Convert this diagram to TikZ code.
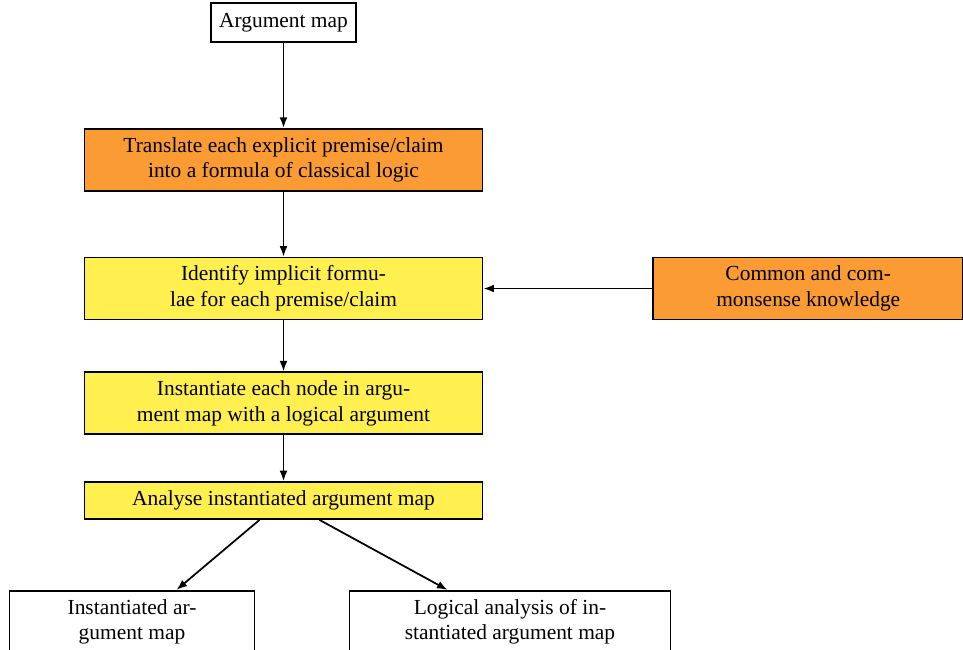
\documentclass[tikz,border=0pt]{standalone}
\usepackage{fontspec}
\setmainfont{Liberation Serif}
\usetikzlibrary{positioning,arrows.meta}
\definecolor{boxorange}{RGB}{250,155,52}
\definecolor{boxyellow}{RGB}{255,240,80}
\begin{document}
\begin{tikzpicture}[->,>={Latex[length=6pt,width=4.5pt]},line width=1pt,node distance=1.3cm,
	main node/.style={rectangle,draw,align=center,inner sep=2pt,font=\fontsize{12.2}{14.6}\selectfont,minimum width=7.96cm,minimum height=1.24cm},
	step node/.style={main node,fill=boxyellow},
	input node/.style={main node,fill=boxorange}]

	\useasboundingbox (-5.67cm,0.45cm) rectangle ++(19.26cm,-13cm);

	\node[main node,minimum width=2.9cm,minimum height=0.78cm] (arg) at (0,0) {Argument map};
	\node[input node] (translate) [below=1.70cm of arg] {Translate each explicit premise/claim\\into a formula of classical logic};
	\node[step node] (identify) [below=1.30cm of translate] {Identify implicit formu-\\lae for each premise/claim};
	\node[input node,minimum width=6.2cm] (common) [right=3.38cm of identify] {Common and com-\\monsense knowledge};
	\node[step node] (inst) [below=1.02cm of identify] {Instantiate each node in argu-\\ment map with a logical argument};
	\node[step node,minimum height=0.74cm] (analyse) [below=0.92cm of inst] {Analyse instantiated argument map};
	\node[main node,minimum width=4.9cm] (result) [below=1.40cm of analyse, xshift=-3.03cm] {Instantiated ar-\\gument map};
	\node[main node,minimum width=6.42cm] (logic) [below=1.40cm of analyse, xshift=4.53cm] {Logical analysis of in-\\stantiated argument map};

	\path
		(arg) edge (translate)
		(translate) edge (identify)
		(common) edge (identify)
		(identify) edge (inst)
		(inst) edge (analyse)
		([xshift=-0.48cm]analyse.south) edge ([xshift=0.89cm]result.north)
		([xshift=0.72cm]analyse.south) edge ([xshift=-1.25cm]logic.north);

\end{tikzpicture}
\end{document}
